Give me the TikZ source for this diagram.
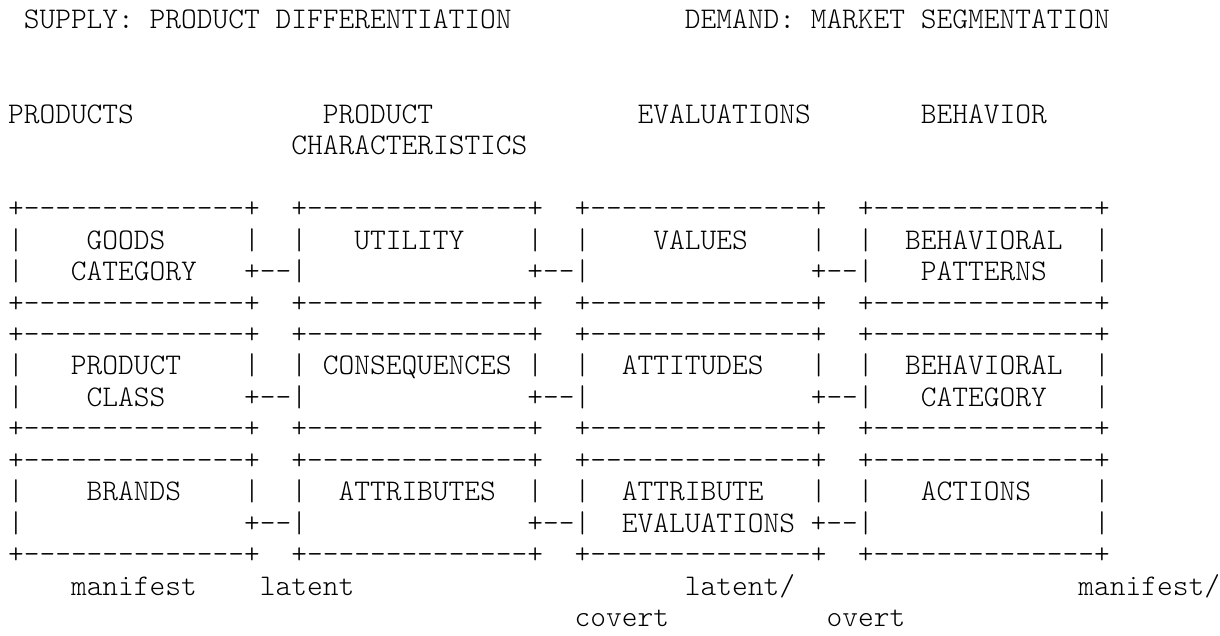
\documentclass[tikz,border=0pt]{standalone}
\usepackage{fontspec}
\setmonofont{lmmonolt10-regular.otf}
\newcommand\boxedge{+--------------+}
\newcommand\rowedges{\boxedge~~\boxedge~~\boxedge~~\boxedge}
\newcommand\emptyrun{~~~~~~~~~~~~~~}
\begin{document}
\begin{tikzpicture}[x=15.74pt,y=-31.45pt,
  txt/.style={anchor=base west,inner sep=0pt,font=\ttfamily\fontsize{29.98pt}{31.45pt}\selectfont}]
\useasboundingbox (-7.85pt,-2.45pt) rectangle (1212.15pt,-638.45pt);
% headings
\node[txt] (supply) at (1,1) {SUPPLY: PRODUCT DIFFERENTIATION};
\node[txt] (demand) at (43,1) {DEMAND: MARKET SEGMENTATION};
\node[txt] (products) at (0,4) {PRODUCTS};
\node[txt] (prodchar) at (20,4) {PRODUCT};
\node[txt] (chars) at (18,5) {CHARACTERISTICS};
\node[txt] (evals) at (40,4) {EVALUATIONS};
\node[txt] (behav) at (58,4) {BEHAVIOR};
% top row of boxes
\node[txt] (r7) at (0,7) {\rowedges};
\node[txt] (r8) at (0,8) {|~~~~GOODS~~~~~|~~|~~~UTILITY~~~~|~~|~~~~VALUES~~~~|~~|~~BEHAVIORAL~~|};
\node[txt] (r9) at (0,9) {|~~~CATEGORY~~~+--|\emptyrun+--|\emptyrun+--|~~~PATTERNS~~~|};
\node[txt] (r10) at (0,10) {\rowedges};
% middle row
\node[txt] (r11) at (0,11) {\rowedges};
\node[txt] (r12) at (0,12) {|~~~PRODUCT~~~~|~~|~CONSEQUENCES~|~~|~~ATTITUDES~~~|~~|~~BEHAVIORAL~~|};
\node[txt] (r13) at (0,13) {|~~~~CLASS~~~~~+--|\emptyrun+--|\emptyrun+--|~~~CATEGORY~~~|};
\node[txt] (r14) at (0,14) {\rowedges};
% bottom row
\node[txt] (r15) at (0,15) {\rowedges};
\node[txt] (r16) at (0,16) {|~~~~BRANDS~~~~|~~|~~ATTRIBUTES~~|~~|~~ATTRIBUTE~~~|~~|~~~ACTIONS~~~~|};
\node[txt] (r17) at (0,17) {|\emptyrun+--|\emptyrun+--|~~EVALUATIONS~+--|\emptyrun|};
\node[txt] (r18) at (0,18) {\rowedges};
% labels under the boxes
\node[txt] (manif) at (4,19) {manifest};
\node[txt] (lat) at (16,19) {latent};
\node[txt] (latcov) at (43,19) {latent/};
\node[txt] (manov) at (68,19) {manifest/};
\node[txt] (covert) at (36,20) {covert};
\node[txt] (overt) at (52,20) {overt};
\end{tikzpicture}
\end{document}
